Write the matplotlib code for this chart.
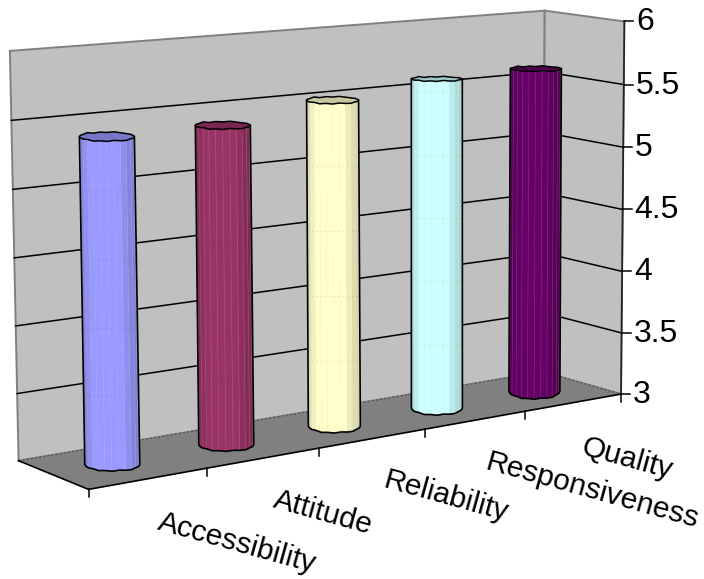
import numpy as np
import matplotlib
matplotlib.use("Agg")
from matplotlib import pyplot as plt

categories = ["Accessibility", "Attitude", "Reliability", "Responsiveness", "Quality"]
values = [5.4, 5.4, 5.51, 5.6, 5.61]
colors = ["#9999FF", "#993366", "#FFFFCC", "#CCFFFF", "#660066"]
y_ticks = [3, 3.5, 4, 4.5, 5, 5.5, 6]
y_labels = ["3", "3.5", "4", "4.5", "5", "5.5", "6"]

# box corners (category, depth, value) and where they land on the canvas
box_corners = [(0, 1, 3), (0, 1, 6), (5, 1, 3), (5, 1, 6), (5, 0, 3), (5, 0, 6), (0, 0, 3)]
box_canvas = [(18, 460), (10, 51), (544, 372), (544, 11), (620, 394), (625, 21), (89, 490)]

# baseline start of each slanted category label
label_pos = [(157, 529), (272, 507), (382, 487), (484, 469), (580, 454)]
# cylinder size per category: half width, lower and upper ellipse half height
half_w = [27.5, 27.5, 26, 25.5, 25.5]
low_ry = [6.5, 6.5, 7, 7, 8]
top_ry = [4.5, 3.8, 3.5, 2.2, 2.5]
# small dents of the faceted cylinder outline
bump = [0, .5, -.3, .8, .2, -.6, .3, -.2, .6, -.5, .3, 0, -.3, .5, 0, 1.2, -.5, .2, -.3, .5, 0, -.2, .3, -.5]

A, b = [], []
for (u, d, v), (x, y) in zip(box_corners, box_canvas):
    A.append([u, d, v, 1, 0, 0, 0, 0, -x * u, -x * d, -x * v])
    A.append([0, 0, 0, 0, u, d, v, 1, -y * u, -y * d, -y * v])
    b += [x, y]
p = np.linalg.lstsq(np.array(A, float), np.array(b, float), rcond=None)[0]
P = np.append(p, 1).reshape(3, 4)


def project(u, d, v):
    q = P @ np.array([u, d, v, 1.0])
    return q[0] / q[2], q[1] / q[2]


def shade(color, f):
    return np.clip(np.array(matplotlib.colors.to_rgb(color)) * f, 0, 1)


def ring(cx, cy, rx, ry):
    t = np.linspace(0, 2 * np.pi, 25)[:-1]
    return cx + rx * np.cos(t), cy + (ry + np.array(bump)) * np.sin(t)


def poly(corners, **kw):
    pts = [project(*c) for c in corners]
    ax.fill([a for a, _ in pts], [c for _, c in pts], **kw)


def line(corners, **kw):
    pts = [project(*c) for c in corners]
    ax.plot([a for a, _ in pts], [c for _, c in pts], **kw)


plt.rcParams["font.family"] = ["Liberation Sans", "DejaVu Sans"]
fig = plt.figure(figsize=(7.04, 5.79), dpi=100)
ax = fig.add_axes([0, 0, 1, 1])
ax.set_xlim(0, 704)
ax.set_ylim(579, 0)
ax.axis("off")

n = len(categories)
poly([(0, 1, 3), (n, 1, 3), (n, 1, 6), (0, 1, 6)], fc="#C0C0C0", ec="#808080", lw=1.4, zorder=1)
poly([(n, 1, 3), (n, 0, 3), (n, 0, 6), (n, 1, 6)], fc="#C0C0C0", ec="#808080", lw=1.4, zorder=1)
poly([(0, 0, 3), (n, 0, 3), (n, 1, 3), (0, 1, 3)], fc="#808080", ec="none", zorder=2)
line([(0, 1, 3), (n, 1, 3), (n, 0, 3)], color="#555555", lw=1.0, ls=(0, (1.5, 1.5)), zorder=2)

for v in y_ticks[1:-1]:
    line([(0, 1, v), (n, 1, v), (n, 0, v)], color="black", lw=1.1, zorder=3)

# outer axes
line([(0, 1, 3), (0, 0, 3), (n, 0, 3)], color="black", lw=1.2, zorder=3)
line([(n, 0, 3), (n, 0, 6)], color="#222222", lw=1.2, zorder=3)
for v, s in zip(y_ticks, y_labels):
    x, y = project(n, 0, v)
    ax.plot([x, x + 9], [y, y], color="black", lw=1.1, zorder=3)
    ax.text(x + 12, y + 1, s, fontsize=23, ha="left", va="center", zorder=5)
for i in range(n + 1):
    x, y = project(i, 0, 3)
    ax.plot([x, x], [y, y + 8], color="black", lw=1.1, zorder=3)

# cylinders, one vertical strip per facet
edges = np.linspace(np.pi, 0, 13)
for i in range(n):
    x0, y0 = project(i + .5, .5, 3)
    x1, y1 = project(i + .5, .5, values[i])
    rx, ry0, ry1 = half_w[i], low_ry[i], top_ry[i]
    c = colors[i]

    # body outline
    xb, yb = ring(x0, y0, rx, ry0)
    keep = np.sin(np.linspace(0, 2 * np.pi, 25)[:-1]) >= 0
    bx, by = xb[keep], yb[keep]
    ax.fill(np.r_[x1 - rx, bx[::-1], x1 + rx], np.r_[y1, by[::-1], y1],
            fc=shade(c, .86), ec="none", zorder=4)

    for a, e in zip(edges[:-1], edges[1:]):
        mid = (a + e) / 2
        f = .83 + .17 * np.clip(np.cos(mid - np.pi * .55) * 1.2, 0, 1) ** 3
        xs = np.array([np.cos(a), np.cos(e), np.cos(e), np.cos(a)])
        low = np.sqrt(np.clip(1 - xs ** 2, 0, 1))
        ax.fill(np.array([x1, x1, x0, x0]) + rx * xs,
                np.array([y1, y1, y0 + ry0 * low[2], y0 + ry0 * low[3]]),
                fc=shade(c, f), ec="none", zorder=4)
        ax.plot([x1 + rx * np.cos(e), x0 + rx * np.cos(e)],
                [y1, y0 + ry0 * abs(np.sin(e))],
                color="white", alpha=.22, lw=.8, zorder=4)

    # gridlines showing faintly through the body
    for v in y_ticks[1:-1]:
        if v < values[i]:
            ya = y0 + (y1 - y0) * (v - 3) / (values[i] - 3)
            ax.plot([x1 - rx, x1 + rx], [ya, ya], color="#000000", alpha=.12, lw=.8,
                    ls=(0, (1, 3)), zorder=4)

    ax.plot(np.r_[x1 - rx, bx[::-1], x1 + rx], np.r_[y1, by[::-1], y1],
            color="black", lw=1.2, zorder=5)
    xt, yt = ring(x1, y1, rx, ry1)
    ax.fill(xt, yt, fc=shade(c, .78), ec="black", lw=1.1, zorder=5)

for s, (x, y) in zip(categories, label_pos):
    ax.text(x, y, s, fontsize=21.5, rotation=-15.5, rotation_mode="anchor",
            ha="left", va="baseline", zorder=5)

fig.savefig("out.png", dpi=100)
